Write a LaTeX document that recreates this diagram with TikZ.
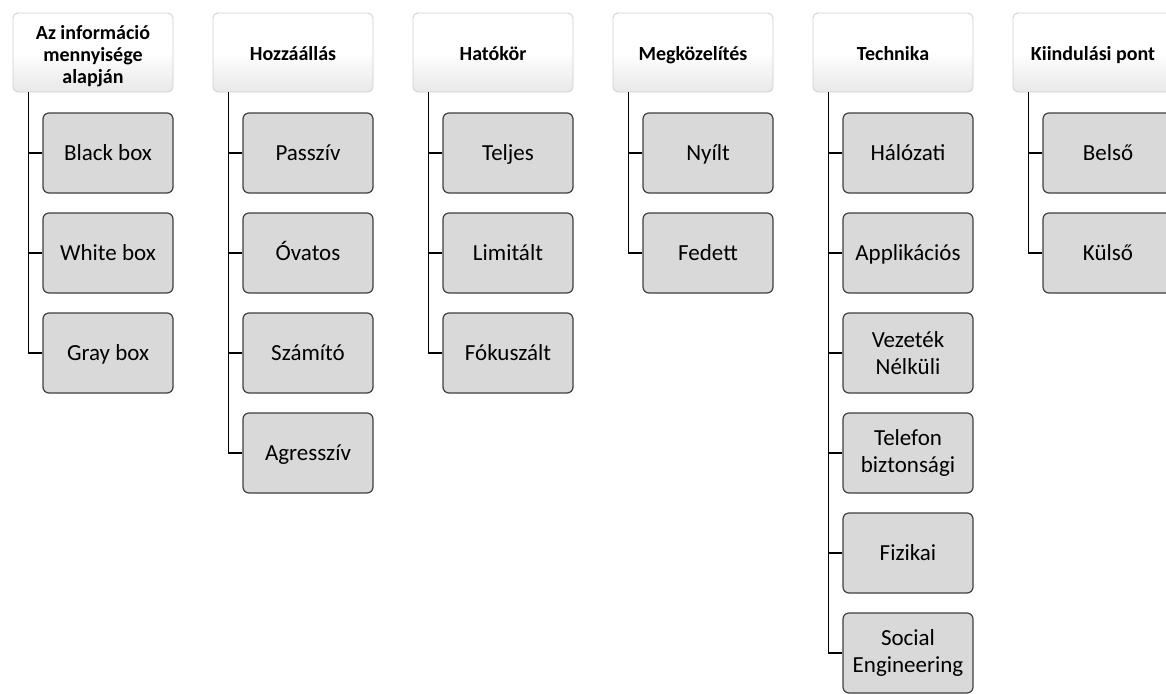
\documentclass[tikz,border=0pt]{standalone}
\usepackage{fontspec}
\newfontfamily\calfont{Carlito}
\definecolor{leaffill}{HTML}{D9D9D9}
\definecolor{leafline}{HTML}{3F3F3F}
\definecolor{hdrline}{HTML}{CFCFCF}
\begin{document}
\begin{tikzpicture}[x=1pt,y=-1pt,
  hdr/.style={draw=hdrline, line width=0.8pt, rounded corners=5pt,
    top color=white, bottom color=black!9, middle color=white,
    minimum width=160pt, minimum height=79pt, inner sep=2pt,
    align=center, text=black,
    font=\calfont\bfseries\fontsize{20}{22}\selectfont},
  leaf/.style={draw=leafline, line width=1.2pt, rounded corners=6pt,
    fill=leaffill, minimum width=130pt, minimum height=80pt, inner sep=2pt,
    align=center, text=black,
    font=\calfont\fontsize{23}{27}\selectfont},
  % single-line labels: capitals centred vertically in the box
  hdr1/.style={hdr, text height=15pt, text depth=0pt},
  leaf1/.style={leaf, text height=16pt, text depth=0.6pt},
  conn/.style={draw=black, line width=1.3pt}]
\useasboundingbox (0,0) rectangle (1166,693);
\clip (0,0) rectangle (1166,693);

% column headers
\node[hdr]  (h1) at (93,52.5)   {\rule{0pt}{21pt}Az információ\\mennyisége\\alapján};
\node[hdr1] (h2) at (293,52.5)  {Hozzáállás};
\node[hdr1] (h3) at (493,52.5)  {Hatókör};
\node[hdr1] (h4) at (693,52.5)  {Megközelítés};
\node[hdr1] (h5) at (893,52.5)  {Technika};
\node[hdr1] (h6) at (1093,52.5) {Kiindulási pont};

% column 1
\node[leaf1] (a1) at (108,153) {Black box};
\node[leaf1] (a2) at (108,253) {White box};
\node[leaf1] (a3) at (108,353) {Gray box};
% column 2
\node[leaf1] (b1) at (308,153) {Passzív};
\node[leaf1] (b2) at (308,253) {Óvatos};
\node[leaf1] (b3) at (308,353) {Számító};
\node[leaf1] (b4) at (308,453) {Agresszív};
% column 3
\node[leaf1] (c1) at (508,153) {Teljes};
\node[leaf1] (c2) at (508,253) {Limitált};
\node[leaf1] (c3) at (508,353) {Fókuszált};
% column 4
\node[leaf1] (d1) at (708,153) {Nyílt};
\node[leaf1] (d2) at (708,253) {Fedett};
% column 5
\node[leaf1] (e1) at (908,153) {Hálózati};
\node[leaf1] (e2) at (908,253) {Applikációs};
\node[leaf]  (e3) at (908,353) {Vezeték\\Nélküli};
\node[leaf]  (e4) at (908,453) {Telefon\\biztonsági};
\node[leaf1] (e5) at (908,553) {Fizikai};
\node[leaf]  (e6) at (908,653) {Social\\Engineering};
% column 6
\node[leaf1] (f1) at (1108,153) {Belső};
\node[leaf1] (f2) at (1108,253) {Külső};

% tree connectors: trunk from each header, branch to each child
\foreach \h/\kids in {h1/{a1,a2,a3}, h2/{b1,b2,b3,b4}, h3/{c1,c2,c3},
                      h4/{d1,d2}, h5/{e1,e2,e3,e4,e5,e6}, h6/{f1,f2}} {
  \foreach \k in \kids {
    \draw[conn] ([xshift=16pt]\h.south west) |- (\k.west);
  }
}
\end{tikzpicture}
\end{document}
